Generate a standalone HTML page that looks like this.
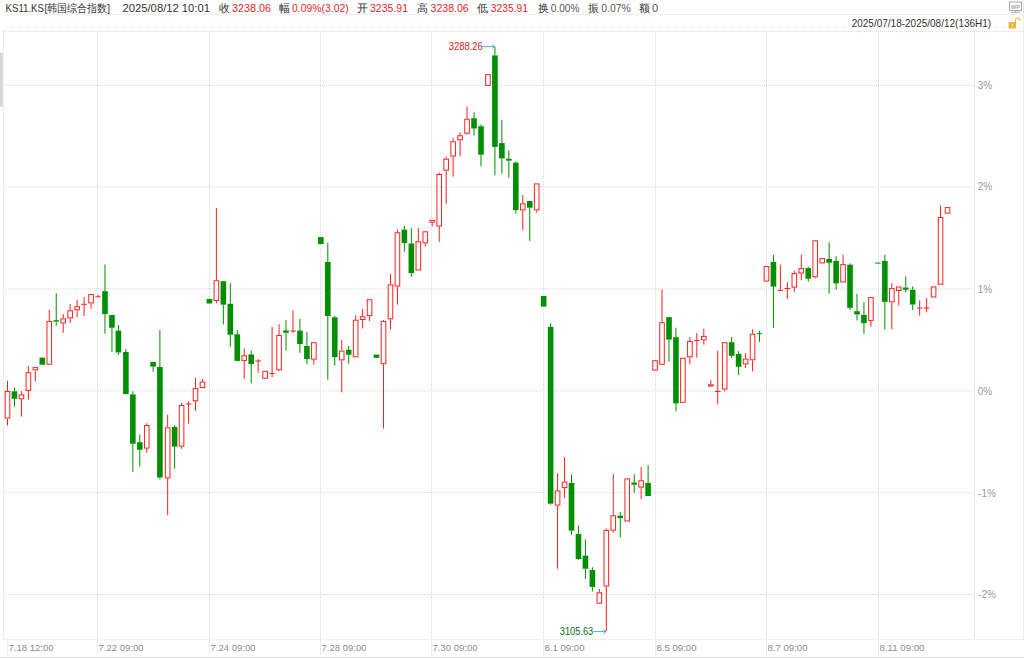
<!DOCTYPE html><html><head><meta charset="utf-8"><style>html,body{margin:0;padding:0;background:#fff;overflow:hidden}svg{display:block}text{font-family:"Liberation Sans",sans-serif}</style></head><body>
<svg width="1024" height="658" viewBox="0 0 1024 658">
<rect width="1024" height="658" fill="#fff"/>
<text x="5.5" y="12" font-size="11" fill="#333" text-anchor="start" textLength="38.5" lengthAdjust="spacingAndGlyphs" >KS11.KS</text>
<text x="44.5" y="12" font-size="11" fill="#333" text-anchor="start" textLength="65.5" lengthAdjust="spacingAndGlyphs" >[韩国综合指数]</text>
<text x="122.5" y="12" font-size="11" fill="#333" text-anchor="start" textLength="87.5" lengthAdjust="spacingAndGlyphs" >2025/08/12 10:01</text>
<text x="219.2" y="12" font-size="10.5" fill="#333" text-anchor="start" >收</text>
<text x="232" y="12" font-size="11" fill="#e3262b" text-anchor="start" textLength="39" lengthAdjust="spacingAndGlyphs" >3238.06</text>
<text x="278.7" y="12" font-size="10.5" fill="#333" text-anchor="start" >幅</text>
<text x="292" y="12" font-size="11" fill="#e3262b" text-anchor="start" textLength="56.75" lengthAdjust="spacingAndGlyphs" >0.09%(3.02)</text>
<text x="356.7" y="12" font-size="10.5" fill="#333" text-anchor="start" >开</text>
<text x="370" y="12" font-size="11" fill="#e3262b" text-anchor="start" textLength="38" lengthAdjust="spacingAndGlyphs" >3235.91</text>
<text x="416.7" y="12" font-size="10.5" fill="#333" text-anchor="start" >高</text>
<text x="430.5" y="12" font-size="11" fill="#e3262b" text-anchor="start" textLength="38.25" lengthAdjust="spacingAndGlyphs" >3238.06</text>
<text x="477.2" y="12" font-size="10.5" fill="#333" text-anchor="start" >低</text>
<text x="490.75" y="12" font-size="11" fill="#e3262b" text-anchor="start" textLength="37.25" lengthAdjust="spacingAndGlyphs" >3235.91</text>
<text x="537.95" y="12" font-size="10.5" fill="#333" text-anchor="start" >换</text>
<text x="550.75" y="12" font-size="11" fill="#555" text-anchor="start" textLength="28.75" lengthAdjust="spacingAndGlyphs" >0.00%</text>
<text x="587.95" y="12" font-size="10.5" fill="#333" text-anchor="start" >振</text>
<text x="601.25" y="12" font-size="11" fill="#555" text-anchor="start" textLength="29.35" lengthAdjust="spacingAndGlyphs" >0.07%</text>
<text x="638.95" y="12" font-size="10.5" fill="#333" text-anchor="start" >额</text>
<text x="651.9" y="12" font-size="11" fill="#555" text-anchor="start" >0</text>
<rect x="3" y="14" width="1021" height="1" fill="#f0f0f0"/>
<text x="851.7" y="27.3" font-size="10.2" fill="#333" text-anchor="start" textLength="139.5" lengthAdjust="spacingAndGlyphs" >2025/07/18-2025/08/12(136H1)</text>
<g fill="none" stroke="#a8a8a8" stroke-width="1"><rect x="1009.5" y="2" width="12" height="8.5"/><line x1="1015.5" y1="10.5" x2="1015.5" y2="12"/><line x1="1011" y1="12.3" x2="1020" y2="12.3"/></g>
<text x="1015.5" y="8.8" font-size="5.5" font-weight="bold" fill="#a8a8a8" text-anchor="middle">WP</text>
<rect x="1008.6" y="21.9" width="7.4" height="6.5" rx="0.5" fill="#eeb33a"/>
<path d="M1015.5 22 V20.2 A2.2 2.2 0 0 1 1019.9 20.2 V21.3" fill="none" stroke="#eeb33a" stroke-width="1.1"/>
<rect x="1011.9" y="23.8" width="0.9" height="2.7" fill="#fff"/>
<rect x="0" y="53" width="2.7" height="53.5" fill="#d4d4d4"/>
<rect x="3" y="29" width="1" height="611" fill="#ececec"/>
<rect x="1023" y="0" width="1" height="640" fill="#ececec"/>
<line x1="4" y1="31.5" x2="1024" y2="31.5" stroke="#dcdcdc" stroke-width="1" stroke-dasharray="1 1"/>
<line x1="4" y1="639.5" x2="1024" y2="639.5" stroke="#e2e2e2" stroke-width="1" stroke-dasharray="1 1"/>
<line x1="4" y1="85.3" x2="974" y2="85.3" stroke="#d8d8d8" stroke-width="1" stroke-dasharray="1 1"/>
<line x1="4" y1="186.8" x2="974" y2="186.8" stroke="#d8d8d8" stroke-width="1" stroke-dasharray="1 1"/>
<line x1="4" y1="288.8" x2="974" y2="288.8" stroke="#d8d8d8" stroke-width="1" stroke-dasharray="1 1"/>
<line x1="4" y1="390.9" x2="974" y2="390.9" stroke="#d8d8d8" stroke-width="1" stroke-dasharray="1 1"/>
<line x1="4" y1="492.7" x2="974" y2="492.7" stroke="#d8d8d8" stroke-width="1" stroke-dasharray="1 1"/>
<line x1="4" y1="594.5" x2="974" y2="594.5" stroke="#d8d8d8" stroke-width="1" stroke-dasharray="1 1"/>
<line x1="974.5" y1="31" x2="974.5" y2="640" stroke="#d8d8d8" stroke-width="1" stroke-dasharray="1 1"/>
<line x1="7.5" y1="640" x2="7.5" y2="656" stroke="#e0e0e0" stroke-width="1" stroke-dasharray="1 1"/>
<text x="8.6" y="651" font-size="9.5" fill="#8c8c8c" text-anchor="start" textLength="45" lengthAdjust="spacingAndGlyphs" >7.18 12:00</text>
<line x1="97.5" y1="32" x2="97.5" y2="656" stroke="#d8d8d8" stroke-width="1" stroke-dasharray="1 1"/>
<text x="98.5" y="651" font-size="9.5" fill="#8c8c8c" text-anchor="start" textLength="45" lengthAdjust="spacingAndGlyphs" >7.22 09:00</text>
<line x1="209.5" y1="32" x2="209.5" y2="656" stroke="#d8d8d8" stroke-width="1" stroke-dasharray="1 1"/>
<text x="210.5" y="651" font-size="9.5" fill="#8c8c8c" text-anchor="start" textLength="45" lengthAdjust="spacingAndGlyphs" >7.24 09:00</text>
<line x1="320.5" y1="32" x2="320.5" y2="656" stroke="#d8d8d8" stroke-width="1" stroke-dasharray="1 1"/>
<text x="321.5" y="651" font-size="9.5" fill="#8c8c8c" text-anchor="start" textLength="45" lengthAdjust="spacingAndGlyphs" >7.28 09:00</text>
<line x1="431.5" y1="32" x2="431.5" y2="656" stroke="#d8d8d8" stroke-width="1" stroke-dasharray="1 1"/>
<text x="432.5" y="651" font-size="9.5" fill="#8c8c8c" text-anchor="start" textLength="45" lengthAdjust="spacingAndGlyphs" >7.30 09:00</text>
<line x1="543.5" y1="32" x2="543.5" y2="656" stroke="#d8d8d8" stroke-width="1" stroke-dasharray="1 1"/>
<text x="544.5" y="651" font-size="9.5" fill="#8c8c8c" text-anchor="start" textLength="40" lengthAdjust="spacingAndGlyphs" >8.1 09:00</text>
<line x1="655.5" y1="32" x2="655.5" y2="656" stroke="#d8d8d8" stroke-width="1" stroke-dasharray="1 1"/>
<text x="656.5" y="651" font-size="9.5" fill="#8c8c8c" text-anchor="start" textLength="40" lengthAdjust="spacingAndGlyphs" >8.5 09:00</text>
<line x1="766.5" y1="32" x2="766.5" y2="656" stroke="#d8d8d8" stroke-width="1" stroke-dasharray="1 1"/>
<text x="767.5" y="651" font-size="9.5" fill="#8c8c8c" text-anchor="start" textLength="40" lengthAdjust="spacingAndGlyphs" >8.7 09:00</text>
<line x1="878.5" y1="32" x2="878.5" y2="656" stroke="#d8d8d8" stroke-width="1" stroke-dasharray="1 1"/>
<text x="879.5" y="651" font-size="9.5" fill="#8c8c8c" text-anchor="start" textLength="45" lengthAdjust="spacingAndGlyphs" >8.11 09:00</text>
<rect x="0" y="657" width="1024" height="1" fill="#d4d4d4"/>
<text x="977.8" y="88.7" font-size="10" fill="#999" text-anchor="start" >3%</text>
<text x="977.8" y="190.39999999999998" font-size="10" fill="#999" text-anchor="start" >2%</text>
<text x="977.8" y="292.7" font-size="10" fill="#999" text-anchor="start" >1%</text>
<text x="977.8" y="394.7" font-size="10" fill="#999" text-anchor="start" >0%</text>
<text x="978.1" y="496.7" font-size="10" fill="#999" text-anchor="start" >-1%</text>
<text x="978.1" y="598.4000000000001" font-size="10" fill="#999" text-anchor="start" >-2%</text>
<g shape-rendering="auto">
<rect x="7.00" y="380.80" width="1" height="10.10" fill="#ff2020"/>
<rect x="7.00" y="418.60" width="1" height="6.80" fill="#ff2020"/>
<rect x="5.20" y="391.40" width="4.6" height="26.70" fill="none" stroke="#ff2020" stroke-width="1"/>
<rect x="13.96" y="387.50" width="1" height="3.75" fill="#008f00"/>
<rect x="13.96" y="398.75" width="1" height="8.05" fill="#008f00"/>
<rect x="11.66" y="391.25" width="5.6" height="7.50" fill="#008f00"/>
<rect x="20.93" y="391.25" width="1" height="3.15" fill="#ff2020"/>
<rect x="20.93" y="399.30" width="1" height="17.30" fill="#ff2020"/>
<rect x="19.13" y="394.90" width="4.6" height="3.90" fill="none" stroke="#ff2020" stroke-width="1"/>
<rect x="27.89" y="366.00" width="1" height="6.20" fill="#ff2020"/>
<rect x="27.89" y="390.90" width="1" height="8.80" fill="#ff2020"/>
<rect x="26.09" y="372.70" width="4.6" height="17.70" fill="none" stroke="#ff2020" stroke-width="1"/>
<rect x="34.85" y="370.30" width="1" height="11.30" fill="#ff2020"/>
<rect x="33.05" y="367.60" width="4.6" height="2.20" fill="none" stroke="#ff2020" stroke-width="1"/>
<rect x="39.52" y="357.60" width="5.6" height="7.10" fill="#008f00"/>
<rect x="48.78" y="309.75" width="1" height="11.25" fill="#ff2020"/>
<rect x="46.98" y="321.50" width="4.6" height="42.70" fill="none" stroke="#ff2020" stroke-width="1"/>
<rect x="55.74" y="293.40" width="1" height="26.80" fill="#008f00"/>
<rect x="55.74" y="321.60" width="1" height="4.10" fill="#008f00"/>
<rect x="53.44" y="320.20" width="5.6" height="1.40" fill="#008f00"/>
<rect x="62.70" y="314.00" width="1" height="4.40" fill="#ff2020"/>
<rect x="62.70" y="323.40" width="1" height="9.40" fill="#ff2020"/>
<rect x="60.90" y="318.90" width="4.6" height="4.00" fill="none" stroke="#ff2020" stroke-width="1"/>
<rect x="69.67" y="304.00" width="1" height="6.30" fill="#ff2020"/>
<rect x="69.67" y="318.40" width="1" height="4.50" fill="#ff2020"/>
<rect x="67.87" y="310.80" width="4.6" height="7.10" fill="none" stroke="#ff2020" stroke-width="1"/>
<rect x="76.63" y="300.00" width="1" height="6.20" fill="#ff2020"/>
<rect x="76.63" y="310.30" width="1" height="6.95" fill="#ff2020"/>
<rect x="74.83" y="306.70" width="4.6" height="3.10" fill="none" stroke="#ff2020" stroke-width="1"/>
<rect x="83.59" y="297.20" width="1" height="7.10" fill="#ff2020"/>
<rect x="83.59" y="304.30" width="1" height="11.70" fill="#ff2020"/>
<rect x="81.29" y="303.80" width="5.6" height="1" fill="#ff2020"/>
<rect x="90.56" y="303.40" width="1" height="5.40" fill="#ff2020"/>
<rect x="88.76" y="294.50" width="4.6" height="8.40" fill="none" stroke="#ff2020" stroke-width="1"/>
<rect x="97.52" y="295.00" width="1" height="1.80" fill="#ff2020"/>
<rect x="95.22" y="296.30" width="5.6" height="1" fill="#ff2020"/>
<rect x="104.48" y="264.40" width="1" height="26.80" fill="#008f00"/>
<rect x="104.48" y="314.00" width="1" height="19.75" fill="#008f00"/>
<rect x="102.18" y="291.20" width="5.6" height="22.80" fill="#008f00"/>
<rect x="111.45" y="327.75" width="1" height="24.25" fill="#008f00"/>
<rect x="109.15" y="315.00" width="5.6" height="12.75" fill="#008f00"/>
<rect x="117.91" y="325.00" width="1" height="5.60" fill="#008f00"/>
<rect x="117.91" y="352.50" width="1" height="2.25" fill="#008f00"/>
<rect x="115.61" y="330.60" width="5.6" height="21.90" fill="#008f00"/>
<rect x="125.37" y="349.00" width="1" height="3.00" fill="#008f00"/>
<rect x="123.07" y="352.00" width="5.6" height="42.00" fill="#008f00"/>
<rect x="132.33" y="391.25" width="1" height="3.15" fill="#008f00"/>
<rect x="132.33" y="443.75" width="1" height="28.15" fill="#008f00"/>
<rect x="130.03" y="394.40" width="5.6" height="49.35" fill="#008f00"/>
<rect x="139.30" y="434.40" width="1" height="7.85" fill="#008f00"/>
<rect x="139.30" y="449.75" width="1" height="16.85" fill="#008f00"/>
<rect x="137.00" y="442.25" width="5.6" height="7.50" fill="#008f00"/>
<rect x="146.26" y="423.10" width="1" height="1.90" fill="#ff2020"/>
<rect x="146.26" y="448.60" width="1" height="4.15" fill="#ff2020"/>
<rect x="144.46" y="425.50" width="4.6" height="22.60" fill="none" stroke="#ff2020" stroke-width="1"/>
<rect x="152.62" y="366.60" width="1" height="5.20" fill="#008f00"/>
<rect x="150.32" y="361.90" width="5.6" height="4.70" fill="#008f00"/>
<rect x="159.39" y="330.00" width="1" height="37.00" fill="#008f00"/>
<rect x="159.39" y="477.50" width="1" height="1.90" fill="#008f00"/>
<rect x="157.09" y="367.00" width="5.6" height="110.50" fill="#008f00"/>
<rect x="167.15" y="414.70" width="1" height="12.55" fill="#ff2020"/>
<rect x="167.15" y="478.40" width="1" height="36.60" fill="#ff2020"/>
<rect x="165.35" y="427.75" width="4.6" height="50.15" fill="none" stroke="#ff2020" stroke-width="1"/>
<rect x="174.11" y="425.00" width="1" height="1.90" fill="#008f00"/>
<rect x="174.11" y="446.60" width="1" height="22.10" fill="#008f00"/>
<rect x="171.81" y="426.90" width="5.6" height="19.70" fill="#008f00"/>
<rect x="181.07" y="402.90" width="1" height="2.10" fill="#ff2020"/>
<rect x="181.07" y="446.60" width="1" height="2.20" fill="#ff2020"/>
<rect x="179.27" y="405.50" width="4.6" height="40.60" fill="none" stroke="#ff2020" stroke-width="1"/>
<rect x="188.04" y="401.40" width="1" height="2.60" fill="#ff2020"/>
<rect x="188.04" y="404.00" width="1" height="19.50" fill="#ff2020"/>
<rect x="185.74" y="403.50" width="5.6" height="1" fill="#ff2020"/>
<rect x="195.00" y="377.80" width="1" height="10.30" fill="#ff2020"/>
<rect x="195.00" y="401.25" width="1" height="9.35" fill="#ff2020"/>
<rect x="193.20" y="388.60" width="4.6" height="12.15" fill="none" stroke="#ff2020" stroke-width="1"/>
<rect x="201.96" y="379.10" width="1" height="2.50" fill="#ff2020"/>
<rect x="200.16" y="382.10" width="4.6" height="5.50" fill="none" stroke="#ff2020" stroke-width="1"/>
<rect x="206.63" y="299.00" width="5.6" height="4.50" fill="#008f00"/>
<rect x="215.89" y="207.90" width="1" height="72.35" fill="#ff2020"/>
<rect x="215.89" y="301.00" width="1" height="2.30" fill="#ff2020"/>
<rect x="214.09" y="280.75" width="4.6" height="19.75" fill="none" stroke="#ff2020" stroke-width="1"/>
<rect x="222.85" y="304.70" width="1" height="19.70" fill="#008f00"/>
<rect x="220.55" y="281.20" width="5.6" height="23.50" fill="#008f00"/>
<rect x="229.82" y="283.40" width="1" height="20.35" fill="#008f00"/>
<rect x="229.82" y="334.70" width="1" height="12.20" fill="#008f00"/>
<rect x="227.52" y="303.75" width="5.6" height="30.95" fill="#008f00"/>
<rect x="236.78" y="330.00" width="1" height="4.30" fill="#008f00"/>
<rect x="234.48" y="334.30" width="5.6" height="26.60" fill="#008f00"/>
<rect x="243.74" y="348.40" width="1" height="6.90" fill="#ff2020"/>
<rect x="243.74" y="360.90" width="1" height="17.85" fill="#ff2020"/>
<rect x="241.94" y="355.80" width="4.6" height="4.60" fill="none" stroke="#ff2020" stroke-width="1"/>
<rect x="250.71" y="350.60" width="1" height="3.80" fill="#008f00"/>
<rect x="250.71" y="364.10" width="1" height="19.30" fill="#008f00"/>
<rect x="248.41" y="354.40" width="5.6" height="9.70" fill="#008f00"/>
<rect x="257.67" y="359.00" width="1" height="2.00" fill="#ff2020"/>
<rect x="257.67" y="361.00" width="1" height="11.75" fill="#ff2020"/>
<rect x="255.37" y="360.50" width="5.6" height="1" fill="#ff2020"/>
<rect x="262.83" y="371.40" width="4.6" height="6.85" fill="none" stroke="#ff2020" stroke-width="1"/>
<rect x="271.59" y="326.80" width="1" height="46.70" fill="#ff2020"/>
<rect x="271.59" y="373.50" width="1" height="3.75" fill="#ff2020"/>
<rect x="269.29" y="373.00" width="5.6" height="1" fill="#ff2020"/>
<rect x="278.56" y="324.00" width="1" height="11.00" fill="#ff2020"/>
<rect x="278.56" y="370.30" width="1" height="0.95" fill="#ff2020"/>
<rect x="276.76" y="335.50" width="4.6" height="34.30" fill="none" stroke="#ff2020" stroke-width="1"/>
<rect x="285.52" y="320.25" width="1" height="10.15" fill="#008f00"/>
<rect x="285.52" y="332.80" width="1" height="17.80" fill="#008f00"/>
<rect x="283.22" y="330.40" width="5.6" height="2.40" fill="#008f00"/>
<rect x="292.48" y="310.30" width="1" height="20.70" fill="#ff2020"/>
<rect x="292.48" y="331.00" width="1" height="1.80" fill="#ff2020"/>
<rect x="290.18" y="330.50" width="5.6" height="1" fill="#ff2020"/>
<rect x="299.45" y="318.75" width="1" height="11.85" fill="#008f00"/>
<rect x="299.45" y="344.00" width="1" height="8.90" fill="#008f00"/>
<rect x="297.15" y="330.60" width="5.6" height="13.40" fill="#008f00"/>
<rect x="306.41" y="331.90" width="1" height="14.10" fill="#008f00"/>
<rect x="306.41" y="359.00" width="1" height="5.30" fill="#008f00"/>
<rect x="304.11" y="346.00" width="5.6" height="13.00" fill="#008f00"/>
<rect x="313.37" y="359.60" width="1" height="5.10" fill="#ff2020"/>
<rect x="311.57" y="342.70" width="4.6" height="16.40" fill="none" stroke="#ff2020" stroke-width="1"/>
<rect x="318.03" y="237.10" width="5.6" height="6.90" fill="#008f00"/>
<rect x="327.30" y="242.75" width="1" height="19.15" fill="#008f00"/>
<rect x="327.30" y="316.00" width="1" height="63.70" fill="#008f00"/>
<rect x="325.00" y="261.90" width="5.6" height="54.10" fill="#008f00"/>
<rect x="334.26" y="315.90" width="1" height="1.35" fill="#008f00"/>
<rect x="334.26" y="357.20" width="1" height="8.40" fill="#008f00"/>
<rect x="331.96" y="317.25" width="5.6" height="39.95" fill="#008f00"/>
<rect x="341.22" y="339.75" width="1" height="10.85" fill="#ff2020"/>
<rect x="341.22" y="360.40" width="1" height="31.85" fill="#ff2020"/>
<rect x="339.42" y="351.10" width="4.6" height="8.80" fill="none" stroke="#ff2020" stroke-width="1"/>
<rect x="348.19" y="346.00" width="1" height="3.70" fill="#008f00"/>
<rect x="348.19" y="354.75" width="1" height="9.00" fill="#008f00"/>
<rect x="345.89" y="349.70" width="5.6" height="5.05" fill="#008f00"/>
<rect x="355.15" y="315.20" width="1" height="4.50" fill="#ff2020"/>
<rect x="353.35" y="320.20" width="4.6" height="36.60" fill="none" stroke="#ff2020" stroke-width="1"/>
<rect x="362.11" y="309.00" width="1" height="7.25" fill="#ff2020"/>
<rect x="362.11" y="320.00" width="1" height="8.50" fill="#ff2020"/>
<rect x="360.31" y="316.75" width="4.6" height="2.75" fill="none" stroke="#ff2020" stroke-width="1"/>
<rect x="369.08" y="316.10" width="1" height="4.90" fill="#ff2020"/>
<rect x="367.28" y="299.70" width="4.6" height="15.90" fill="none" stroke="#ff2020" stroke-width="1"/>
<rect x="373.74" y="354.60" width="5.6" height="3.20" fill="#008f00"/>
<rect x="383.00" y="320.00" width="1" height="1.00" fill="#ff2020"/>
<rect x="383.00" y="364.20" width="1" height="64.30" fill="#ff2020"/>
<rect x="381.20" y="321.50" width="4.6" height="42.20" fill="none" stroke="#ff2020" stroke-width="1"/>
<rect x="389.97" y="274.00" width="1" height="10.40" fill="#ff2020"/>
<rect x="389.97" y="319.30" width="1" height="10.20" fill="#ff2020"/>
<rect x="388.17" y="284.90" width="4.6" height="33.90" fill="none" stroke="#ff2020" stroke-width="1"/>
<rect x="396.93" y="229.60" width="1" height="2.65" fill="#ff2020"/>
<rect x="396.93" y="286.60" width="1" height="18.00" fill="#ff2020"/>
<rect x="395.13" y="232.75" width="4.6" height="53.35" fill="none" stroke="#ff2020" stroke-width="1"/>
<rect x="403.89" y="225.90" width="1" height="3.70" fill="#008f00"/>
<rect x="403.89" y="243.10" width="1" height="8.50" fill="#008f00"/>
<rect x="401.59" y="229.60" width="5.6" height="13.50" fill="#008f00"/>
<rect x="410.85" y="228.10" width="1" height="15.40" fill="#008f00"/>
<rect x="410.85" y="273.10" width="1" height="3.80" fill="#008f00"/>
<rect x="408.55" y="243.50" width="5.6" height="29.60" fill="#008f00"/>
<rect x="417.82" y="228.10" width="1" height="13.15" fill="#ff2020"/>
<rect x="416.02" y="241.75" width="4.6" height="28.25" fill="none" stroke="#ff2020" stroke-width="1"/>
<rect x="424.78" y="243.30" width="1" height="3.50" fill="#ff2020"/>
<rect x="422.98" y="231.80" width="4.6" height="11.00" fill="none" stroke="#ff2020" stroke-width="1"/>
<rect x="431.74" y="222.70" width="1" height="3.70" fill="#ff2020"/>
<rect x="429.94" y="220.40" width="4.6" height="1.80" fill="none" stroke="#ff2020" stroke-width="1"/>
<rect x="438.71" y="172.50" width="1" height="1.50" fill="#ff2020"/>
<rect x="438.71" y="226.50" width="1" height="15.40" fill="#ff2020"/>
<rect x="436.91" y="174.50" width="4.6" height="51.50" fill="none" stroke="#ff2020" stroke-width="1"/>
<rect x="445.67" y="156.40" width="1" height="2.30" fill="#ff2020"/>
<rect x="445.67" y="170.60" width="1" height="33.20" fill="#ff2020"/>
<rect x="443.87" y="159.20" width="4.6" height="10.90" fill="none" stroke="#ff2020" stroke-width="1"/>
<rect x="452.63" y="137.90" width="1" height="3.35" fill="#ff2020"/>
<rect x="452.63" y="156.60" width="1" height="20.20" fill="#ff2020"/>
<rect x="450.83" y="141.75" width="4.6" height="14.35" fill="none" stroke="#ff2020" stroke-width="1"/>
<rect x="459.60" y="132.25" width="1" height="3.00" fill="#ff2020"/>
<rect x="459.60" y="140.30" width="1" height="15.90" fill="#ff2020"/>
<rect x="457.80" y="135.75" width="4.6" height="4.05" fill="none" stroke="#ff2020" stroke-width="1"/>
<rect x="466.56" y="106.60" width="1" height="12.15" fill="#ff2020"/>
<rect x="466.56" y="133.75" width="1" height="0.95" fill="#ff2020"/>
<rect x="464.76" y="119.25" width="4.6" height="14.00" fill="none" stroke="#ff2020" stroke-width="1"/>
<rect x="473.52" y="112.20" width="1" height="6.00" fill="#008f00"/>
<rect x="473.52" y="128.50" width="1" height="7.10" fill="#008f00"/>
<rect x="471.22" y="118.20" width="5.6" height="10.30" fill="#008f00"/>
<rect x="480.48" y="124.40" width="1" height="1.85" fill="#008f00"/>
<rect x="480.48" y="154.70" width="1" height="11.60" fill="#008f00"/>
<rect x="478.18" y="126.25" width="5.6" height="28.45" fill="#008f00"/>
<rect x="485.65" y="74.60" width="4.6" height="10.80" fill="none" stroke="#ff2020" stroke-width="1"/>
<rect x="494.41" y="46.60" width="1" height="8.80" fill="#008f00"/>
<rect x="494.41" y="146.90" width="1" height="28.40" fill="#008f00"/>
<rect x="492.11" y="55.40" width="5.6" height="91.50" fill="#008f00"/>
<rect x="501.37" y="119.70" width="1" height="23.40" fill="#008f00"/>
<rect x="501.37" y="158.40" width="1" height="15.40" fill="#008f00"/>
<rect x="499.07" y="143.10" width="5.6" height="15.30" fill="#008f00"/>
<rect x="508.34" y="150.25" width="1" height="8.45" fill="#008f00"/>
<rect x="508.34" y="160.70" width="1" height="17.05" fill="#008f00"/>
<rect x="506.04" y="158.70" width="5.6" height="2.00" fill="#008f00"/>
<rect x="515.30" y="161.60" width="1" height="1.00" fill="#008f00"/>
<rect x="515.30" y="210.00" width="1" height="3.40" fill="#008f00"/>
<rect x="513.00" y="162.60" width="5.6" height="47.40" fill="#008f00"/>
<rect x="522.26" y="195.00" width="1" height="8.40" fill="#ff2020"/>
<rect x="522.26" y="210.40" width="1" height="19.85" fill="#ff2020"/>
<rect x="520.46" y="203.90" width="4.6" height="6.00" fill="none" stroke="#ff2020" stroke-width="1"/>
<rect x="529.23" y="207.75" width="1" height="33.15" fill="#008f00"/>
<rect x="526.93" y="201.00" width="5.6" height="6.75" fill="#008f00"/>
<rect x="536.19" y="210.40" width="1" height="2.40" fill="#ff2020"/>
<rect x="534.39" y="183.90" width="4.6" height="26.00" fill="none" stroke="#ff2020" stroke-width="1"/>
<rect x="540.85" y="295.90" width="5.6" height="10.70" fill="#008f00"/>
<rect x="550.11" y="323.10" width="1" height="3.80" fill="#008f00"/>
<rect x="550.11" y="503.70" width="1" height="1.00" fill="#008f00"/>
<rect x="547.81" y="326.90" width="5.6" height="176.80" fill="#008f00"/>
<rect x="557.08" y="473.10" width="1" height="17.30" fill="#ff2020"/>
<rect x="557.08" y="505.60" width="1" height="63.15" fill="#ff2020"/>
<rect x="555.28" y="490.90" width="4.6" height="14.20" fill="none" stroke="#ff2020" stroke-width="1"/>
<rect x="564.04" y="457.20" width="1" height="24.40" fill="#ff2020"/>
<rect x="564.04" y="488.10" width="1" height="9.80" fill="#ff2020"/>
<rect x="562.24" y="482.10" width="4.6" height="5.50" fill="none" stroke="#ff2020" stroke-width="1"/>
<rect x="571.00" y="474.60" width="1" height="8.30" fill="#008f00"/>
<rect x="571.00" y="530.60" width="1" height="4.15" fill="#008f00"/>
<rect x="568.70" y="482.90" width="5.6" height="47.70" fill="#008f00"/>
<rect x="577.97" y="525.60" width="1" height="8.40" fill="#008f00"/>
<rect x="577.97" y="559.00" width="1" height="0.75" fill="#008f00"/>
<rect x="575.67" y="534.00" width="5.6" height="25.00" fill="#008f00"/>
<rect x="584.93" y="539.40" width="1" height="16.20" fill="#008f00"/>
<rect x="584.93" y="568.75" width="1" height="10.25" fill="#008f00"/>
<rect x="582.63" y="555.60" width="5.6" height="13.15" fill="#008f00"/>
<rect x="591.89" y="567.25" width="1" height="2.75" fill="#008f00"/>
<rect x="591.89" y="586.90" width="1" height="4.60" fill="#008f00"/>
<rect x="589.59" y="570.00" width="5.6" height="16.90" fill="#008f00"/>
<rect x="598.86" y="589.00" width="1" height="3.25" fill="#ff2020"/>
<rect x="597.06" y="592.75" width="4.6" height="10.50" fill="none" stroke="#ff2020" stroke-width="1"/>
<rect x="605.82" y="528.50" width="1" height="1.50" fill="#ff2020"/>
<rect x="605.82" y="586.50" width="1" height="44.50" fill="#ff2020"/>
<rect x="604.02" y="530.50" width="4.6" height="55.50" fill="none" stroke="#ff2020" stroke-width="1"/>
<rect x="612.78" y="474.10" width="1" height="41.15" fill="#ff2020"/>
<rect x="612.78" y="530.60" width="1" height="2.15" fill="#ff2020"/>
<rect x="610.98" y="515.75" width="4.6" height="14.35" fill="none" stroke="#ff2020" stroke-width="1"/>
<rect x="619.74" y="511.90" width="1" height="3.70" fill="#008f00"/>
<rect x="619.74" y="518.10" width="1" height="19.40" fill="#008f00"/>
<rect x="617.44" y="515.60" width="5.6" height="2.50" fill="#008f00"/>
<rect x="624.91" y="478.90" width="4.6" height="42.10" fill="none" stroke="#ff2020" stroke-width="1"/>
<rect x="633.67" y="474.10" width="1" height="8.40" fill="#008f00"/>
<rect x="633.67" y="484.75" width="1" height="8.05" fill="#008f00"/>
<rect x="631.37" y="482.50" width="5.6" height="2.25" fill="#008f00"/>
<rect x="640.63" y="467.00" width="1" height="13.25" fill="#ff2020"/>
<rect x="640.63" y="487.60" width="1" height="11.40" fill="#ff2020"/>
<rect x="638.83" y="480.75" width="4.6" height="6.35" fill="none" stroke="#ff2020" stroke-width="1"/>
<rect x="647.60" y="465.25" width="1" height="17.65" fill="#008f00"/>
<rect x="645.30" y="482.90" width="5.6" height="13.10" fill="#008f00"/>
<rect x="652.76" y="360.75" width="4.6" height="9.35" fill="none" stroke="#ff2020" stroke-width="1"/>
<rect x="661.52" y="289.75" width="1" height="32.45" fill="#ff2020"/>
<rect x="659.72" y="322.70" width="4.6" height="41.55" fill="none" stroke="#ff2020" stroke-width="1"/>
<rect x="668.49" y="339.60" width="1" height="22.00" fill="#008f00"/>
<rect x="666.19" y="317.10" width="5.6" height="22.50" fill="#008f00"/>
<rect x="675.45" y="327.80" width="1" height="9.40" fill="#008f00"/>
<rect x="675.45" y="403.40" width="1" height="7.85" fill="#008f00"/>
<rect x="673.15" y="337.20" width="5.6" height="66.20" fill="#008f00"/>
<rect x="680.61" y="358.30" width="4.6" height="44.00" fill="none" stroke="#ff2020" stroke-width="1"/>
<rect x="689.37" y="337.20" width="1" height="3.80" fill="#ff2020"/>
<rect x="689.37" y="357.25" width="1" height="7.15" fill="#ff2020"/>
<rect x="687.57" y="341.50" width="4.6" height="15.25" fill="none" stroke="#ff2020" stroke-width="1"/>
<rect x="696.34" y="333.00" width="1" height="7.40" fill="#ff2020"/>
<rect x="696.34" y="340.40" width="1" height="17.40" fill="#ff2020"/>
<rect x="694.04" y="339.90" width="5.6" height="1" fill="#ff2020"/>
<rect x="703.30" y="328.75" width="1" height="7.15" fill="#ff2020"/>
<rect x="703.30" y="340.40" width="1" height="4.30" fill="#ff2020"/>
<rect x="701.50" y="336.40" width="4.6" height="3.50" fill="none" stroke="#ff2020" stroke-width="1"/>
<rect x="710.26" y="380.20" width="1" height="4.10" fill="#ff2020"/>
<rect x="708.46" y="384.80" width="4.6" height="1.30" fill="none" stroke="#ff2020" stroke-width="1"/>
<rect x="717.23" y="350.80" width="1" height="40.60" fill="#ff2020"/>
<rect x="717.23" y="391.40" width="1" height="13.10" fill="#ff2020"/>
<rect x="714.93" y="390.90" width="5.6" height="1" fill="#ff2020"/>
<rect x="724.19" y="389.50" width="1" height="1.90" fill="#ff2020"/>
<rect x="722.39" y="342.70" width="4.6" height="46.30" fill="none" stroke="#ff2020" stroke-width="1"/>
<rect x="731.15" y="337.10" width="1" height="5.10" fill="#008f00"/>
<rect x="731.15" y="355.80" width="1" height="2.20" fill="#008f00"/>
<rect x="728.85" y="342.20" width="5.6" height="13.60" fill="#008f00"/>
<rect x="738.12" y="351.20" width="1" height="2.70" fill="#008f00"/>
<rect x="738.12" y="366.80" width="1" height="8.20" fill="#008f00"/>
<rect x="735.82" y="353.90" width="5.6" height="12.90" fill="#008f00"/>
<rect x="745.08" y="353.10" width="1" height="5.50" fill="#ff2020"/>
<rect x="745.08" y="364.40" width="1" height="3.70" fill="#ff2020"/>
<rect x="743.28" y="359.10" width="4.6" height="4.80" fill="none" stroke="#ff2020" stroke-width="1"/>
<rect x="752.04" y="329.30" width="1" height="4.40" fill="#ff2020"/>
<rect x="752.04" y="360.30" width="1" height="11.00" fill="#ff2020"/>
<rect x="750.24" y="334.20" width="4.6" height="25.60" fill="none" stroke="#ff2020" stroke-width="1"/>
<rect x="759.00" y="330.70" width="1" height="3.00" fill="#008f00"/>
<rect x="759.00" y="333.70" width="1" height="8.20" fill="#008f00"/>
<rect x="756.70" y="333.20" width="5.6" height="1" fill="#008f00"/>
<rect x="764.17" y="266.50" width="4.6" height="14.60" fill="none" stroke="#ff2020" stroke-width="1"/>
<rect x="772.93" y="254.75" width="1" height="7.15" fill="#008f00"/>
<rect x="772.93" y="286.60" width="1" height="41.30" fill="#008f00"/>
<rect x="770.63" y="261.90" width="5.6" height="24.70" fill="#008f00"/>
<rect x="779.89" y="264.70" width="1" height="25.70" fill="#ff2020"/>
<rect x="777.59" y="289.90" width="5.6" height="1" fill="#ff2020"/>
<rect x="786.86" y="282.10" width="1" height="6.40" fill="#ff2020"/>
<rect x="786.86" y="288.50" width="1" height="10.30" fill="#ff2020"/>
<rect x="784.56" y="288.00" width="5.6" height="1" fill="#ff2020"/>
<rect x="793.82" y="270.90" width="1" height="2.20" fill="#ff2020"/>
<rect x="793.82" y="287.60" width="1" height="4.30" fill="#ff2020"/>
<rect x="792.02" y="273.60" width="4.6" height="13.50" fill="none" stroke="#ff2020" stroke-width="1"/>
<rect x="800.78" y="254.75" width="1" height="13.35" fill="#ff2020"/>
<rect x="800.78" y="273.50" width="1" height="6.75" fill="#ff2020"/>
<rect x="798.98" y="268.60" width="4.6" height="4.40" fill="none" stroke="#ff2020" stroke-width="1"/>
<rect x="807.75" y="266.60" width="1" height="1.50" fill="#008f00"/>
<rect x="807.75" y="278.75" width="1" height="2.85" fill="#008f00"/>
<rect x="805.45" y="268.10" width="5.6" height="10.65" fill="#008f00"/>
<rect x="814.71" y="277.25" width="1" height="1.15" fill="#ff2020"/>
<rect x="812.91" y="240.80" width="4.6" height="35.95" fill="none" stroke="#ff2020" stroke-width="1"/>
<rect x="819.87" y="258.60" width="4.6" height="4.30" fill="none" stroke="#ff2020" stroke-width="1"/>
<rect x="828.63" y="242.20" width="1" height="16.80" fill="#008f00"/>
<rect x="828.63" y="262.80" width="1" height="30.95" fill="#008f00"/>
<rect x="826.33" y="259.00" width="5.6" height="3.80" fill="#008f00"/>
<rect x="835.60" y="256.25" width="1" height="4.65" fill="#008f00"/>
<rect x="835.60" y="283.40" width="1" height="6.20" fill="#008f00"/>
<rect x="833.30" y="260.90" width="5.6" height="22.50" fill="#008f00"/>
<rect x="842.56" y="254.75" width="1" height="9.35" fill="#ff2020"/>
<rect x="840.76" y="264.60" width="4.6" height="17.40" fill="none" stroke="#ff2020" stroke-width="1"/>
<rect x="849.52" y="263.40" width="1" height="1.30" fill="#008f00"/>
<rect x="849.52" y="307.80" width="1" height="2.45" fill="#008f00"/>
<rect x="847.22" y="264.70" width="5.6" height="43.10" fill="#008f00"/>
<rect x="856.49" y="293.75" width="1" height="17.45" fill="#008f00"/>
<rect x="856.49" y="314.40" width="1" height="6.00" fill="#008f00"/>
<rect x="854.19" y="311.20" width="5.6" height="3.20" fill="#008f00"/>
<rect x="863.45" y="302.20" width="1" height="12.70" fill="#008f00"/>
<rect x="863.45" y="323.20" width="1" height="10.80" fill="#008f00"/>
<rect x="861.15" y="314.90" width="5.6" height="8.30" fill="#008f00"/>
<rect x="870.41" y="320.90" width="1" height="5.70" fill="#ff2020"/>
<rect x="868.61" y="297.60" width="4.6" height="22.80" fill="none" stroke="#ff2020" stroke-width="1"/>
<rect x="875.08" y="262.60" width="5.6" height="1" fill="#008f00"/>
<rect x="884.34" y="255.00" width="1" height="6.00" fill="#008f00"/>
<rect x="884.34" y="301.90" width="1" height="27.50" fill="#008f00"/>
<rect x="882.04" y="261.00" width="5.6" height="40.90" fill="#008f00"/>
<rect x="891.30" y="283.10" width="1" height="5.00" fill="#ff2020"/>
<rect x="891.30" y="302.30" width="1" height="27.10" fill="#ff2020"/>
<rect x="889.50" y="288.60" width="4.6" height="13.20" fill="none" stroke="#ff2020" stroke-width="1"/>
<rect x="898.26" y="291.00" width="1" height="14.50" fill="#ff2020"/>
<rect x="896.46" y="287.00" width="4.6" height="3.50" fill="none" stroke="#ff2020" stroke-width="1"/>
<rect x="905.23" y="276.50" width="1" height="11.00" fill="#008f00"/>
<rect x="905.23" y="289.75" width="1" height="2.65" fill="#008f00"/>
<rect x="902.93" y="287.50" width="5.6" height="2.25" fill="#008f00"/>
<rect x="912.19" y="286.40" width="1" height="3.35" fill="#008f00"/>
<rect x="912.19" y="304.50" width="1" height="5.50" fill="#008f00"/>
<rect x="909.89" y="289.75" width="5.6" height="14.75" fill="#008f00"/>
<rect x="919.15" y="300.30" width="1" height="7.70" fill="#ff2020"/>
<rect x="919.15" y="308.00" width="1" height="7.75" fill="#ff2020"/>
<rect x="916.85" y="307.50" width="5.6" height="1" fill="#ff2020"/>
<rect x="926.12" y="298.10" width="1" height="9.90" fill="#ff2020"/>
<rect x="926.12" y="308.00" width="1" height="4.20" fill="#ff2020"/>
<rect x="923.82" y="307.50" width="5.6" height="1" fill="#ff2020"/>
<rect x="931.28" y="286.90" width="4.6" height="10.10" fill="none" stroke="#ff2020" stroke-width="1"/>
<rect x="940.04" y="205.60" width="1" height="11.40" fill="#ff2020"/>
<rect x="938.24" y="217.50" width="4.6" height="66.70" fill="none" stroke="#ff2020" stroke-width="1"/>
<rect x="945.21" y="207.60" width="4.6" height="5.60" fill="none" stroke="#ff2020" stroke-width="1"/>
</g>
<text x="448.8" y="50.3" font-size="10" fill="#d42020" text-anchor="start" textLength="33.8" lengthAdjust="spacingAndGlyphs" >3288.26</text>
<path d="M482.6 46.6 H494.5 M491.8 44.6 L494.5 46.6 L491.8 48.6" fill="none" stroke="#3a9bc8" stroke-width="0.8"/>
<text x="559.75" y="635.2" font-size="10" fill="#00702a" text-anchor="start" textLength="33.5" lengthAdjust="spacingAndGlyphs" >3105.63</text>
<path d="M593.3 631.5 H606 M603.3 629.5 L606 631.5 L603.3 633.5" fill="none" stroke="#3a9bc8" stroke-width="0.8"/>
</svg></body></html>
